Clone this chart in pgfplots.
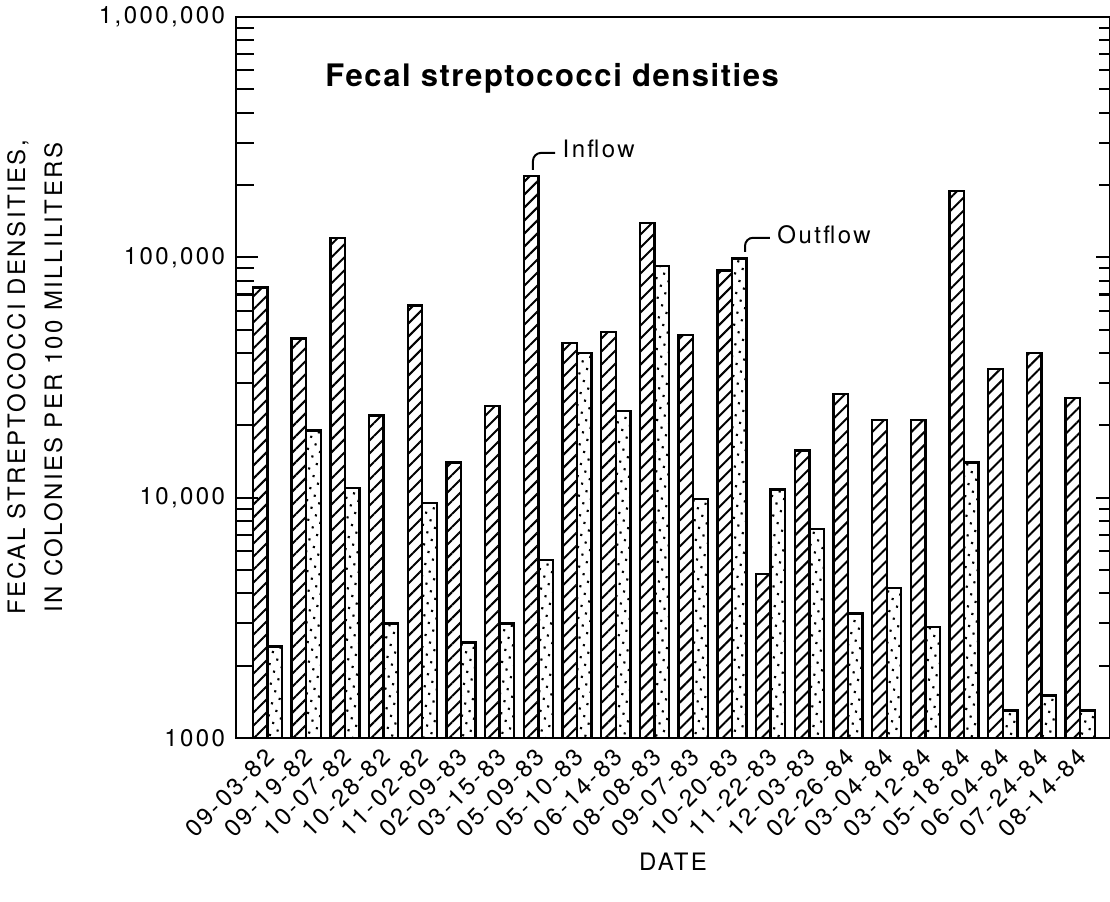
\documentclass[border=0pt]{standalone}
\usepackage{pgfplots}
\pgfplotsset{compat=1.18}
\usepackage{fontspec}
\setmainfont{TeX Gyre Heros}[LetterSpace=10]
\newfontfamily\titlefont{TeX Gyre Heros}[LetterSpace=5]
\newfontfamily\labfont{TeX Gyre Heros}[LetterSpace=10]
\newcommand\tlfont{\labfont\fontsize{12pt}{14pt}\selectfont}
\newcommand\ttlfont{\titlefont\bfseries\fontsize{15.5pt}{18pt}\selectfont}
\newcommand\ylfont{\labfont\fontsize{12pt}{18.5pt}\selectfont}
\newcommand\tl[1]{\mbox{\tlfont #1}}
\usetikzlibrary{patterns.meta}

\begin{document}
\begin{tikzpicture}
\begin{axis}[
  width=437pt, height=360.5pt, scale only axis,
  ymode=log, ymin=1000, ymax=1000000, log origin=infty,
  xmin=-0.814, xmax=21.77,
  ybar, bar width=0.375,
  xtick={0,...,21},
  xticklabels={\tl{09-03-82},\tl{09-19-82},\tl{10-07-82},\tl{10-28-82},\tl{11-02-82},\tl{02-09-83},\tl{03-15-83},\tl{05-09-83},\tl{05-10-83},\tl{06-14-83},\tl{08-08-83},\tl{09-07-83},\tl{10-20-83},\tl{11-22-83},\tl{12-03-83},\tl{02-26-84},\tl{03-04-84},\tl{03-12-84},\tl{05-18-84},\tl{06-04-84},\tl{07-24-84},\tl{08-14-84}},
  xtick style={draw=none},
  xticklabel style={rotate=45, anchor=east, xshift=-1pt, yshift=-6pt, font=\tlfont},
  ytick={1000,10000,100000,1000000},
  yticklabels={\tl{1000},\tl{10,000},\tl{100,000},\tl{1,000,000}},
  yticklabel style={font=\tlfont, xshift=-2pt},
  ytick pos=left,
  tick align=inside, major tick length=11pt, minor tick length=9pt,
  ytick style={line width=1.1pt, black},
  axis line style={line width=1.3pt},
  xlabel={DATE},
  every axis x label/.style={at={(axis description cs:0.5,-0.171)}, anchor=center, font=\tlfont},
  ylabel={FECAL STREPTOCOCCI DENSITIES,\\IN COLONIES PER 100 MILLILITERS},
  every axis y label/.style={at={(axis description cs:-0.230,0.5)}, rotate=90, anchor=center, align=center, font=\ylfont},
]
\addplot[draw=black, line width=1.2pt, bar shift=-0.1875,
  pattern={Lines[angle=45, distance=4.6pt, line width=1pt]}]
  coordinates {
  (0,75000) (1,46000) (2,120000) (3,22000) (4,63000) (5,14000) (6,24000)
  (7,218000) (8,44000) (9,49000) (10,139000) (11,47500) (12,88000) (13,4800)
  (14,15700) (15,27000) (16,21000) (17,21000) (18,189000) (19,34300) (20,40000) (21,26000)};
\addplot[draw=black, line width=1.2pt, bar shift=0.1875,
  pattern={Dots[angle=30, distance=4.4pt, radius=0.75pt]}]
  coordinates {
  (0,2400) (1,19000) (2,11000) (3,3000) (4,9500) (5,2500) (6,3000)
  (7,5500) (8,40000) (9,23000) (10,92000) (11,9900) (12,99000) (13,10800)
  (14,7400) (15,3300) (16,4200) (17,2900) (18,14000) (19,1300) (20,1500) (21,1300)};
\node[anchor=base west, inner sep=0pt, font=\ttlfont]
  at (axis description cs:0.1018,0.903) {Fecal streptococci densities};
\draw[line width=1pt, rounded corners=4pt] (axis cs:6.86,231000) |- (axis cs:7.43,271900)
  node[anchor=west, yshift=2pt, font=\tlfont] {Inflow};
\draw[line width=1pt, rounded corners=4pt] (axis cs:12.34,105300) |- (axis cs:12.98,120600)
  node[anchor=west, yshift=1.5pt, font=\tlfont] {Outflow};
\end{axis}
\begin{axis}[
  width=437pt, height=360.5pt, scale only axis,
  ymode=log, ymin=1000, ymax=1000000,
  xmin=0, xmax=1,
  axis x line=none,
  axis y line*=right,
  y axis line style={draw=none},
  ytick={1000,10000,100000,1000000},
  yticklabels={},
  tick align=inside, major tick length=7pt, minor tick length=5.5pt,
  ytick style={line width=1.1pt, black},
]
\addplot[draw=none] coordinates {(0,1000)};
\end{axis}
\pgfresetboundingbox
\path[use as bounding box] (-118pt,-81.5pt) rectangle (437pt,369pt);
\end{tikzpicture}
\end{document}
